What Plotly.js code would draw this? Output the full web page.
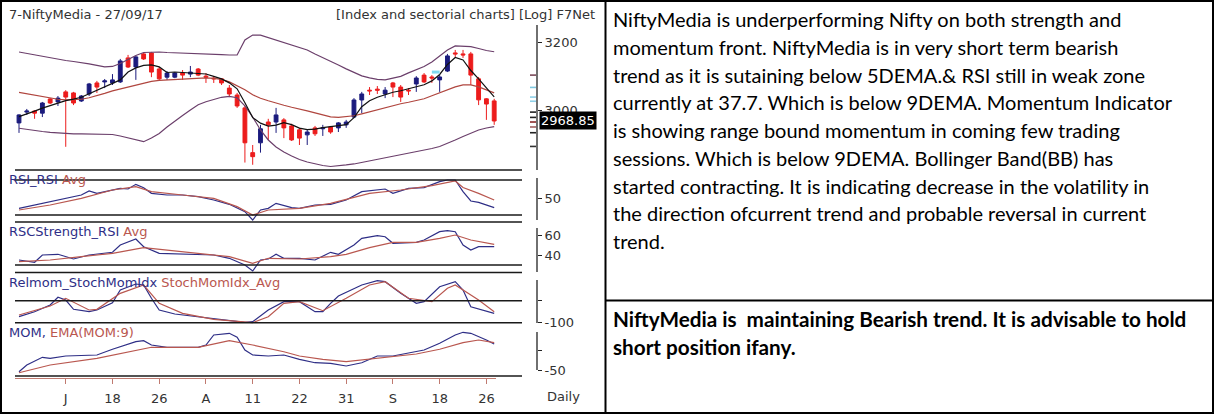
<!DOCTYPE html>
<html><head><meta charset="utf-8">
<script src="https://cdn.plot.ly/plotly-3.0.1.min.js"></script>
<style>html,body{margin:0;padding:0;background:#fff;overflow:hidden}#chart{width:1214px;height:414px}</style>
</head><body><div id="chart"></div>
<script>
// ---------------- DATA ----------------
const titleLeft = '7-NiftyMedia - 27/09/17';
const titleRight = '[Index and sectorial charts] [Log] F7Net';
const openP  = [2963.5,2994,2997,2991,3031.6,3023,3052,3049,3025.8,3046,3078,3081,3078,3081,3152,3125,3164,3167,3119,3095,3095,3107,3104,3119,3098,3092,3090,3063,3043,3006,2881,2908,2966,2966,2972,2955,2944,2930,2949.5,2947,2952,2949.5,2958,2980,3028.7,3057,3060,3046,3078,3066,3057,3075,3101,3095.5,3087,3113,3167,3164,3164,3090,3032,3026];
const highP  = [2988,3003,3000,3023,3034,3040,3057,3052,3043,3078,3084,3089.6,3104,3149,3161,3158,3167,3170,3125,3113,3110,3116,3128,3122,3107,3098,3092,3072,3049,3011.5,2902,2958,2975,3006,2977,2961,2949.5,2944,2955,2958,2955,2966,2972,3034,3052,3066,3069,3066,3081,3072,3063,3098,3107,3101,3101,3164,3176,3176,3170,3095.5,3034,3032];
const lowP   = [2935.5,2986,2975,2980,3017,3011.5,2897,3014,3023,3040,3049,3063,3072,3078,3122,3087,3146,3095,3084,3087,3092,3087,3095,3098,3078,3078,3072,3037,3006,2854,2848,2881,2916,2935.5,2921,2913,2902,2902,2927,2927,2933,2938,2949.5,2977,2991,3043,3046,3034,3037,3023,3043,3052,3078,3078,3052,3110,3155,3152,3072,3014,2972,2958];
const closeP = [2986,2997,2991,3020,3020,3034,3037,3020,3040,3075,3066,3084,3087,3143,3125,3155,3149,3110,3090,3107,3107,3101,3110,3101,3095,3090,3078,3046,3011.5,2908,2870,2947,2958,2986,2949.5,2916,2921,2938,2933,2949.5,2938,2963.5,2966,3028.7,3046,3055,3057,3057,3066,3037,3055,3092.5,3081,3092.5,3095.5,3158,3164,3161,3101,3029,3017,2968.85];
const bbUpper = [3169.7,3165.2,3162.2,3157.7,3153.3,3148.7,3144.3,3141.4,3138.4,3134,3129.6,3125.2,3126.6,3135.5,3147.3,3159.2,3168.2,3169.7,3169.7,3168.2,3167.6,3166.7,3165.8,3164.6,3163.7,3162.8,3161.9,3160.7,3160.7,3206,3221,3221,3213.7,3206.1,3198.5,3191,3183.4,3175.7,3163.7,3153.3,3142.8,3131,3119.3,3109,3098.7,3092.9,3088.5,3087,3092.9,3097.3,3107.5,3116.3,3126.6,3139.9,3157.7,3175.7,3188,3188,3185.8,3180.3,3174.2,3170.6];
const bbMiddle = [3050.8,3046.5,3042.2,3037.8,3033.5,3030.7,3029.2,3029.2,3030.7,3035,3040.7,3047.9,3055.1,3060.9,3066.7,3072.5,3078.3,3082.7,3085.6,3087,3088.5,3090,3091.4,3092.9,3092.9,3091.4,3088.5,3081.2,3069.6,3058,3043.6,3033.5,3026.4,3019.2,3013.5,3007.8,3003.5,2997.7,2992,2986.4,2980.7,2979.3,2980.7,2983.6,2989.2,2994.9,3002,3007.8,3012,3017.8,3022.1,3026.4,3032.1,3040.7,3049.3,3058,3066.7,3072.5,3072.5,3066.7,3058,3049.3];
const bbLower = [2948.4,2945.0,2942.2,2939.4,2937.2,2935.2,2933.8,2932.5,2932.5,2932.5,2932.5,2932.5,2931.1,2926.9,2921.3,2915.8,2911.1,2921.3,2933.8,2952.0,2968.9,2984.4,3000.0,3014.9,3023.5,3030.7,3036.4,3039.3,3035.0,3012.0,2980.2,2943.6,2915.8,2896.5,2882.9,2871.9,2862.4,2855.6,2850.2,2846.1,2843.4,2844.8,2847.5,2850.2,2854.2,2858.3,2862.4,2866.4,2871.9,2876.0,2880.1,2884.2,2888.3,2892.4,2897.9,2906.1,2915.8,2925.5,2935.2,2943.6,2949.2,2952.9];
const emaShort = [2981.1,2988.2,2996.7,3005.2,3012.4,3019.5,3026.6,3030.9,3036.6,3046.7,3056.7,3066.8,3075.5,3087.0,3110.2,3122.2,3129.6,3131.0,3125.2,3108.7,3110.2,3108.7,3108.7,3107.3,3104.3,3097.1,3089.9,3078.3,3061.0,3020.9,2978.3,2962.8,2954.4,2957.2,2964.2,2958.6,2948.8,2944.6,2946.0,2950.2,2953.0,2955.8,2958.6,2978.3,3009.5,3026.6,3036.6,3043.8,3051.0,3055.3,3061.0,3066.8,3072.6,3084.1,3102.9,3132.4,3153.3,3145.8,3114.6,3089.9,3063.9,3037.8];
const lastClose = 2968.85;
const priceTicks = [3000, 3200];
const levelPrices = [3101, 3065, 3037, 3025, 2994, 2979, 2966, 2952, 2936, 2898];
const levelColors = ['#7a4a5a','#7fc8e0','#8fd0e8','#8fd0e8','#222222','#222222','#8b2a2a','#a06060','#222222','#333333'];
const markIdx = [53, 54];
const markPrice = [3110, 3110];

const rsiIdx = [0,2,4,6,8,9,10,13,14,15,16,17,19,21,23,25,27,29,30,31,32,33,34,35,36,38,40,42,44,47,48,50,52,54,55,56,57,58,59,61];
const rsiVal = [38,42,46,50,54,58.8,56,62,61.2,66.8,62.8,56,54,54,52,48,42.8,34,24,36,38,44,41.2,38.8,38,42,42.8,48,58,61.2,56,62,62.8,70,72,72,58,46.8,45.2,38.8];
const rsiAvgIdx = [0,4,8,12,15,17,21,25,28,30,32,36,40,45,49,53,56,57,59,61];
const rsiAvgVal = [36,42,50,60,64,58,54,50,40,30,36,38,44,56,60,65.2,70.8,63,56,48];

const rscIdx = [0,2,3,5,7,9,12,13,15,16,18,21,25,27,29,30,31,32,33,34,36,38,40,41,43,44,46,47,48,51,52,54,55,56,57,58,59,61];
const rscVal = [35,32.7,40,40.7,36,40,42.7,50,56,48.3,41.7,40.7,40,36.7,30,24,35,36,40.7,36.7,36.7,35,42.7,40.7,50,56.7,59.3,58.3,51.7,52.7,55,63.3,64.3,63.3,50,45,48.3,48.3];
const rscAvgIdx = [0,4,8,12,16,19,23,27,30,32,36,40,42,45,48,51,54,56,58,61];
const rscAvgVal = [33.3,35,38.3,41.7,47.3,45,41.7,38.3,31.7,36.7,36,38.3,40.7,47.3,52.7,52.7,56.7,60,55,50.7];

const stochIdx = [0,2,4,5,6,7,9,10,12,13,15,16,17,18,20,23,27,29,30,32,34,36,38,39,40,41,44,46,47,49,51,52,54,56,57,58,61];
const stochVal = [-72.7,-50,-19.5,15.5,3.2,-39.1,-50,-42.3,-9.1,48.6,75.9,71.4,10.9,-42.3,-60.4,-72.7,-87.7,-98.2,-95.4,-42.3,-4.5,-4.5,-50,-50,-11.8,21.4,71.4,90.9,86.4,33.6,-11.8,-4.5,63.6,86.4,48.6,-27.3,-57.3];
const stochAvgIdx = [0,4,6,9,10,13,16,18,21,25,30,32,34,36,39,42,45,47,50,53,55,56,59,61];
const stochAvgVal = [-65,-24.1,10.9,-42.3,-39.1,33.6,71.4,-11.8,-57.3,-84.5,-100,-72.7,-11.8,-4.5,-45.5,10.9,71.4,86.4,10.9,-4.5,56.4,71.4,3.2,-50];

const momIdx = [0,1,3,4,6,10,12,15,16,17,19,23,24,25,27,28,29,30,32,34,36,38,40,42,44,46,48,50,52,54,56,57,58,60,61];
const momVal = [-54.3,-37.5,-18.3,-20.8,-15,-12.5,1.8,20.8,23.3,12.5,6.8,6.8,12.5,37.5,41.8,31.8,0,-12.5,-15,-12.5,-23.3,-31.8,-33.3,-40,-31.8,-15,-15,-6.8,0,16.8,37.5,44.3,41.8,25,15];
const momAvgIdx = [0,4,10,15,17,23,27,30,34,36,39,42,47,51,54,57,59,61];
const momAvgVal = [-56.8,-37.5,-20.8,0,6.8,6.8,23.3,12.5,-4.3,-15,-23.3,-29.3,-18.3,-10,1.8,18.3,25,18.3];

const tickIdx = [6,12,18,24,30,36,42,48,54,60];
const tickText = ['J','18','26','A','11','22','31','S','18','26'];

const commentLines = [
 'NiftyMedia is underperforming Nifty on both strength and',
 'momentum front. NiftyMedia is in very short term bearish',
 'trend as it is sutaining below 5DEMA.& RSI still in weak zone',
 'currently at 37.7. Which is below 9DEMA. Momentum Indicator',
 'is showing range bound momentum in coming few trading',
 'sessions. Which is below 9DEMA. Bollinger Band(BB) has',
 'started contracting. It is indicating decrease in the volatility in',
 'the direction ofcurrent trend and probable reversal in current',
 'trend.'
];
const adviceLines = [
 'NiftyMedia is  maintaining Bearish trend. It is advisable to hold',
 'short position ifany.'
];

// ---------------- LAYOUT HELPERS ----------------
const W = 1214, H = 414;
const fx = p => p / W, fy = p => 1 - p / H;
const X0 = 19, DX = 7.79;                 // pixel of first candle, candle spacing
const idxAt = p => (p - X0) / DX;
const PY_REF = 42, P_REF = 3200, PX_DEC = 2426;
const logAt = p => Math.log10(P_REF) - (p - PY_REF) / PX_DEC;
const idx = closeP.map((_, i) => i);

const NAVY = '#1b1b7d', RED = '#ec1c1c', SUBB = '#2e2e86', SUBR = '#b9574f';
const FONT = 'DejaVu Sans';

const data = [];
data.push({type:'candlestick', x: idx, open: openP, high: highP, low: lowP, close: closeP,
  xaxis:'x', yaxis:'y', whiskerwidth:0,
  increasing:{line:{color:NAVY,width:1}, fillcolor:NAVY},
  decreasing:{line:{color:RED,width:1}, fillcolor:RED}, showlegend:false});
const ln = (x, y, color, ya, w) => ({type:'scatter', mode:'lines', x, y, xaxis:'x', yaxis:ya,
  line:{color, width:w||1.2}, showlegend:false, hoverinfo:'skip'});
data.push(ln(idx, bbUpper, '#6b3f6b', 'y'));
data.push(ln(idx, bbLower, '#6b3f6b', 'y'));
data.push(ln(idx, bbMiddle, '#b0463f', 'y'));
data.push(ln(idx, emaShort, '#111111', 'y'));
data.push(ln(markIdx, markPrice, '#7fd8f0', 'y', 3));
levelPrices.forEach((p, i) => data.push(ln([idxAt(530), idxAt(536)], [p, p], levelColors[i], 'y', 1.6)));
data.push(ln(rsiIdx, rsiVal, SUBB, 'y2'));
data.push(ln(rsiAvgIdx, rsiAvgVal, SUBR, 'y2'));
data.push(ln(rscIdx, rscVal, SUBB, 'y3'));
data.push(ln(rscAvgIdx, rscAvgVal, SUBR, 'y3'));
data.push(ln(stochIdx, stochVal, SUBB, 'y4'));
data.push(ln(stochAvgIdx, stochAvgVal, SUBR, 'y4'));
data.push(ln(momIdx, momVal, SUBB, 'y5'));
data.push(ln(momAvgIdx, momAvgVal, SUBR, 'y5'));

const yBase = {anchor:'free', position: fx(537), side:'right', showgrid:false, zeroline:false, showline:false,
  ticks:'outside', ticklen:4, tickcolor:'#222', tickfont:{family:FONT, size:13, color:'#333'}, fixedrange:true};

const layout = {
  width: W, height: H, margin:{l:0,r:0,t:0,b:0}, paper_bgcolor:'#fff', plot_bgcolor:'rgba(0,0,0,0)',
  showlegend:false,
  xaxis:{domain:[fx(15), fx(537)], range:[idxAt(15), idxAt(537)], anchor:'free', position: fy(378),
    tickmode:'array', tickvals: tickIdx, ticktext: tickText, ticks:'outside', ticklen:5, tickcolor:'#c07a70',
    showline:false, showgrid:false, zeroline:false, rangeslider:{visible:false},
    tickfont:{family:FONT, size:13, color:'#333'}, ticklabelstandoff:3, fixedrange:true},
  yaxis: Object.assign({}, yBase, {domain:[fy(170), fy(25)], type:'log', range:[logAt(170), logAt(25)],
    tickmode:'array', tickvals: priceTicks, ticktext: priceTicks.map(String)}),
  yaxis2: Object.assign({}, yBase, {domain:[fy(221), fy(176)], range:[30+(215-221)*1.2, 30+(215-176)*1.2],
    tickmode:'array', tickvals:[50], ticktext:['50']}),
  yaxis3: Object.assign({}, yBase, {domain:[fy(272), fy(222)], range:[40+(255-272), 40+(255-222)],
    tickmode:'array', tickvals:[60,40], ticktext:['60','40']}),
  yaxis4: Object.assign({}, yBase, {domain:[fy(324), fy(273)], range:[(300.7-324)*100/22, (300.7-273)*100/22],
    tickmode:'array', tickvals:[0,-100], ticktext:['','-100']}),
  yaxis5: Object.assign({}, yBase, {domain:[fy(376), fy(325)], range:[(350-376)*2.5, (350-325)*2.5],
    tickmode:'array', tickvals:[0,-50], ticktext:['','-50']}),
  shapes: [], annotations: []
};

const hline = (x0, x1, y, color, w) => layout.shapes.push({type:'line', xref:'paper', yref:'paper',
  x0: fx(x0), x1: fx(x1), y0: fy(y), y1: fy(y), line:{color, width:w}});
const vline = (x, y0, y1, color, w) => layout.shapes.push({type:'line', xref:'paper', yref:'paper',
  x0: fx(x), x1: fx(x), y0: fy(y0), y1: fy(y1), line:{color, width:w}});
[170, 180, 215, 222, 265, 272.5, 300.7, 322.7, 376].forEach(y => hline(15, 522, y, '#1a1a1a', 1.6));
hline(15, 496, 378.5, '#c07a70', 1);
[[25,170],[178,220],[228,272],[280,323],[332,370]].forEach(s => vline(537, s[0], s[1], '#222', 1.3));
// frame
layout.shapes.push({type:'rect', xref:'paper', yref:'paper', x0:fx(1), x1:fx(1213), y0:fy(1), y1:fy(413), line:{color:'#000', width:2}});
vline(605.5, 0, 414, '#000', 2);
hline(605, 1214, 300.5, '#000', 2);

const ann = (text, x, y, opts) => layout.annotations.push(Object.assign({text, xref:'paper', yref:'paper',
  x: fx(x), y: fy(y), xanchor:'left', yanchor:'middle', showarrow:false,
  font:{family:FONT, size:13, color:'#333'}}, opts || {}));
ann(titleLeft, 7, 14);
ann(titleRight, 597, 14, {xanchor:'right'});
const lbl = (a, b) => `<span style="color:${SUBB}">${a}</span> <span style="color:${SUBR}">${b}</span>`;
ann(lbl('RSI_RSI','Avg'), 7, 180);
ann(lbl('RSCStrength_RSI','Avg'), 7, 231);
ann(lbl('Relmom_StochMomIdx','StochMomIdx_Avg'), 7, 282);
ann(lbl('MOM,','EMA(MOM:9)'), 7, 332);
ann('Daily', 545, 396);
layout.annotations.push({text: lastClose.toFixed(2), xref:'paper', yref:'y', x: fx(539), y: Math.log10(lastClose),
  xanchor:'left', yanchor:'middle', showarrow:false, bgcolor:'#000', borderpad:1,
  font:{family:FONT, size:13, color:'#fff'}});

const TF = 'Lato';
commentLines.forEach((t, i) => ann(t, 611, 19 + i * 27.75, {font:{family:TF, size:20, color:'#000'}}));
adviceLines.forEach((t, i) => ann(t, 611, 319 + i * 27.5, {font:{family:TF, size:20.7, color:'#000', weight:'bold'}}));

Plotly.newPlot('chart', data, layout, {staticPlot:true, displayModeBar:false});
</script></body></html>
